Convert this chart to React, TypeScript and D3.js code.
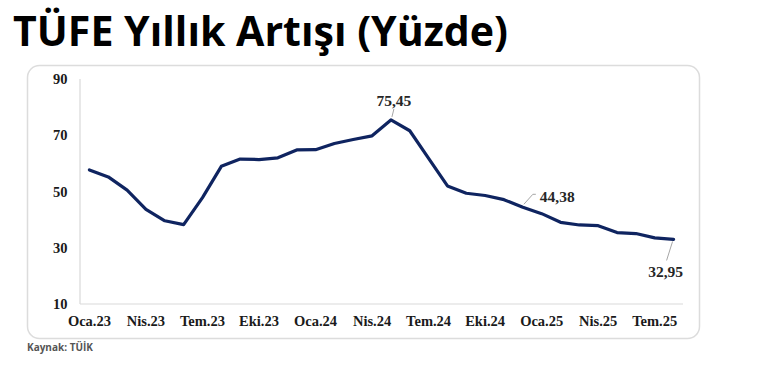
import React from "react";
import * as d3 from "d3";

const months: string[] = [
  "Oca.23","Şub.23","Mar.23","Nis.23","May.23","Haz.23","Tem.23","Ağu.23","Eyl.23","Eki.23","Kas.23","Ara.23",
  "Oca.24","Şub.24","Mar.24","Nis.24","May.24","Haz.24","Tem.24","Ağu.24","Eyl.24","Eki.24","Kas.24","Ara.24",
  "Oca.25","Şub.25","Mar.25","Nis.25","May.25","Haz.25","Tem.25","Ağu.25",
];
const cpi: number[] = [
  57.68, 55.18, 50.51, 43.68, 39.59, 38.21, 47.83, 58.94, 61.53, 61.36, 61.98, 64.77,
  64.86, 67.07, 68.5, 69.8, 75.45, 71.6, 61.78, 51.97, 49.38, 48.58, 47.09, 44.38,
  42.12, 39.05, 38.1, 37.86, 35.41, 35.05, 33.52, 32.95,
];
const xTickLabels: string[] = ["Oca.23","Nis.23","Tem.23","Eki.23","Oca.24","Nis.24","Tem.24","Eki.24","Oca.25","Nis.25","Tem.25"];
const yTicks: number[] = [10, 30, 50, 70, 90];
const annotated: { month: string; text: string }[] = [
  { month: "May.24", text: "75,45" },
  { month: "Ara.24", text: "44,38" },
  { month: "Ağu.25", text: "32,95" },
];

const W = 770, H = 372;
const plot = { left: 80, right: 683, top: 79, bottom: 304 };

export default function App() {
  const x = d3.scaleBand<string>().domain(months).range([plot.left, plot.right]).padding(0);
  const cx = (m: string) => (x(m) as number) + x.bandwidth() / 2;
  const y = d3.scaleLinear().domain([10, 90]).range([plot.bottom, plot.top]);
  const line = d3.line<number>().x((_, i) => cx(months[i])).y((v) => y(v));
  const serif = "'Liberation Serif', 'Times New Roman', serif";

  const pt = (m: string) => {
    const i = months.indexOf(m);
    return { px: cx(m), py: y(cpi[i]) };
  };
  const a0 = pt(annotated[0].month);
  const a1 = pt(annotated[1].month);
  const a2 = pt(annotated[2].month);

  return (
    <div style={{ position: "absolute", left: 0, top: 0 }}>
      <svg width={W} height={H} style={{ display: "block", background: "#fff" }}>
        <text x={13} y={46} fontFamily="'Open Sans', sans-serif" fontWeight={700} fontSize={42} fill="#000" textLength={495} lengthAdjust="spacingAndGlyphs">
          TÜFE Yıllık Artışı (Yüzde)
        </text>
        <rect x={27.5} y={65.5} width={672} height={273} rx={12} ry={12} fill="#fff" stroke="#dcdcdc" strokeWidth={1.5} />
        <line x1={plot.left} x2={plot.left} y1={plot.top} y2={plot.bottom} stroke="#d9d9d9" strokeWidth={1.2} />
        <line x1={plot.left} x2={plot.right} y1={plot.bottom} y2={plot.bottom} stroke="#d9d9d9" strokeWidth={1.2} />
        {yTicks.map((t) => (
          <text key={t} x={67.5} y={y(t)} dy="0.35em" textAnchor="end" fontFamily={serif} fontWeight={700} fontSize={14.5} fill="#1a1a1a">
            {t}
          </text>
        ))}
        {xTickLabels.map((m) => (
          <text key={m} x={cx(m)} y={326} textAnchor="middle" fontFamily={serif} fontWeight={700} fontSize={14.5} fill="#1a1a1a">
            {m}
          </text>
        ))}
        <path d={line(cpi) || ""} fill="none" stroke="#0f2460" strokeWidth={3.2} strokeLinejoin="round" strokeLinecap="round" />
        <line x1={a0.px + 1} y1={a0.py - 3} x2={a0.px + 3} y2={a0.py - 11} stroke="#a6a6a6" strokeWidth={1} />
        <polyline points={`${a1.px + 1},${a1.py - 3} ${a1.px + 10},${a1.py - 13} ${a1.px + 13},${a1.py - 13}`} fill="none" stroke="#a6a6a6" strokeWidth={1} />
        <line x1={a2.px - 1} y1={a2.py + 2} x2={a2.px - 7} y2={a2.py + 21} stroke="#a6a6a6" strokeWidth={1} />
        <text x={a0.px + 3} y={106} textAnchor="middle" fontFamily={serif} fontWeight={700} fontSize={15.5} fill="#262626">{annotated[0].text}</text>
        <text x={a1.px + 17} y={201.5} textAnchor="start" fontFamily={serif} fontWeight={700} fontSize={15.5} fill="#262626">{annotated[1].text}</text>
        <text x={a2.px - 8} y={277} textAnchor="middle" fontFamily={serif} fontWeight={700} fontSize={15.5} fill="#262626">{annotated[2].text}</text>
        <text x={27} y={351} fontFamily="'Open Sans', sans-serif" fontWeight={700} fontSize={10} fill="#555">Kaynak: TÜİK</text>
      </svg>
    </div>
  );
}
